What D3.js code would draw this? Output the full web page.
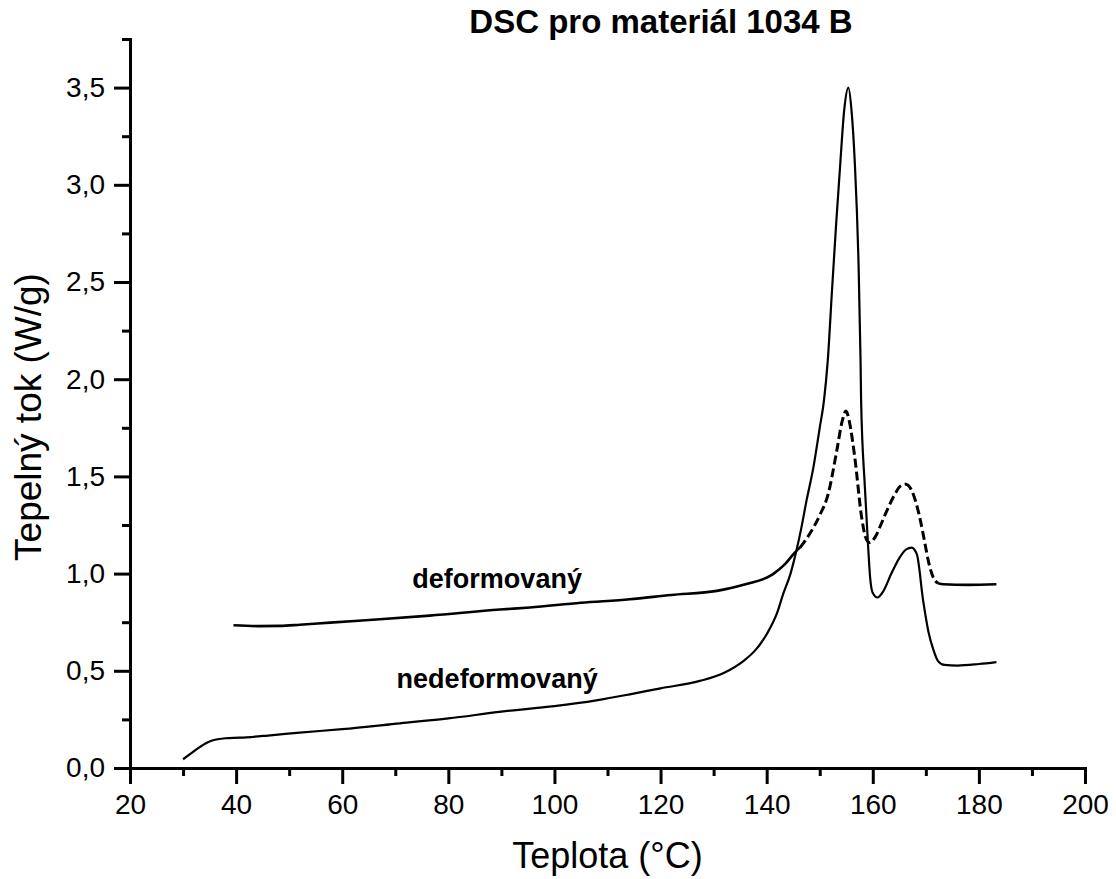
<!DOCTYPE html>
<html>
<head>
<meta charset="utf-8">
<script src="https://cdn.jsdelivr.net/npm/d3@7"></script>
<style>
  body { margin: 0; background: #fff; }
  svg text { font-family: Arial, "Liberation Sans", sans-serif; fill: #000; }
  .axis path, .axis line { stroke: #000; stroke-width: 3; }
  .axis text { font-size: 28px; }
</style>
</head>
<body>
<div id="chart"></div>
<script>
// DSC data
// nedeformovaný (solid)
var tempNedef = [30, 31.5, 33, 34.5, 36, 38, 40.7, 46, 52, 60, 70.9, 80, 90, 100, 107.9, 114.2, 120,
  127.4, 132, 135.6, 138, 140, 142, 143.1, 144.5, 145.6, 146.5, 147.5, 148.8, 150, 150.8, 151.5,
  152.3, 153.1, 153.9, 154.6, 155.4, 156.0, 156.6, 157.3, 157.7, 157.8, 158.5, 159.1, 159.5, 160.0, 160.9,
  162, 163.5, 165, 166.3, 167.3, 168.3, 169.5, 170.5, 171.4, 172.3, 173.5, 176, 180, 183.3];
var flowNedef = [0.045, 0.075, 0.105, 0.13, 0.145, 0.153, 0.156, 0.167, 0.182, 0.2, 0.23, 0.255, 0.29, 0.318, 0.348, 0.379, 0.41,
  0.448, 0.49, 0.55, 0.61, 0.688, 0.8, 0.894, 1.0, 1.117, 1.23, 1.374, 1.545, 1.75, 1.89, 2.09,
  2.45, 2.8, 3.12, 3.38, 3.5, 3.38, 3.12, 2.61, 2.09, 1.89, 1.45, 1.15, 0.98, 0.9, 0.877,
  0.91, 1.0, 1.08, 1.125, 1.134, 1.1, 0.86, 0.7, 0.61, 0.55, 0.53, 0.527, 0.535, 0.545];

// deformovaný (dashed)
var tempDef = [39.5, 44, 48.3, 52, 57.7, 67.1, 76.5, 89.7, 95.4, 105, 114.2, 122, 130.6, 136, 141.2,
  143.5, 145.6, 146.3, 148, 150, 151.6, 153.2, 154.2, 154.95, 155.6, 156.6, 157.9, 158.6, 159.3,
  160.5, 161.5, 162.6, 164, 165.2, 166.2, 167.3, 168.2, 169.0, 169.8, 170.6, 171.4, 172.3, 173.3, 178, 183.3];
var flowDef = [0.734, 0.73, 0.731, 0.737, 0.748, 0.765, 0.784, 0.815, 0.826, 0.85, 0.868, 0.89, 0.911, 0.945, 0.997,
  1.05, 1.117, 1.134, 1.2, 1.3, 1.41, 1.63, 1.78, 1.837, 1.78, 1.6, 1.29, 1.19, 1.16,
  1.19, 1.25, 1.32, 1.4, 1.45, 1.46, 1.43, 1.36, 1.27, 1.16, 1.05, 0.98, 0.95, 0.945, 0.942, 0.945];

var xMajor = [20, 40, 60, 80, 100, 120, 140, 160, 180, 200];
var yMajor = [0, 0.5, 1.0, 1.5, 2.0, 2.5, 3.0, 3.5];

var svgWidth = 1116;
var svgHeight = 879;
var margin = { top: 39, right: 31, bottom: 111, left: 130 };
var width = svgWidth - margin.left - margin.right;
var height = svgHeight - margin.top - margin.bottom;

var svg = d3.select("#chart")
  .append("svg")
  .attr("width", svgWidth)
  .attr("height", svgHeight);

var chartGroup = svg.append("g")
  .attr("transform", `translate(${margin.left}, ${margin.top})`);

var xScale = d3.scaleLinear().domain([20, 200]).range([0, width]);
var yScale = d3.scaleLinear().domain([0, 3.75]).range([height, 0]);

var fmt = d => d3.format(".1f")(d).replace(".", ",");

// minor ticks first
chartGroup.append("g")
  .attr("class", "axis")
  .attr("transform", `translate(0, ${height})`)
  .call(d3.axisBottom(xScale).tickValues(d3.range(30, 200, 20)).tickSize(8).tickFormat(""))
  .select(".domain").remove();

chartGroup.append("g")
  .attr("class", "axis")
  .call(d3.axisLeft(yScale).tickValues([0.25, 0.75, 1.25, 1.75, 2.25, 2.75, 3.25, 3.75]).tickSize(8).tickFormat(""))
  .select(".domain").remove();

// major axes
var xAxis = chartGroup.append("g")
  .attr("class", "axis")
  .attr("transform", `translate(0, ${height})`)
  .call(d3.axisBottom(xScale).tickValues(xMajor).tickSizeInner(16).tickSizeOuter(0).tickPadding(9));
xAxis.selectAll("text").attr("dy", "0.75em");

var yAxis = chartGroup.append("g")
  .attr("class", "axis")
  .call(d3.axisLeft(yScale).tickValues(yMajor).tickSizeInner(16).tickSizeOuter(0).tickPadding(9).tickFormat(fmt));

chartGroup.selectAll(".domain").attr("stroke-linecap", "square");

// lines
var nedef = tempNedef.map((t, i) => ({ t: t, v: flowNedef[i] }));
var def = tempDef.map((t, i) => ({ t: t, v: flowDef[i] }));

var line = d3.line()
  .x(d => xScale(d.t))
  .y(d => yScale(d.v))
  .curve(d3.curveMonotoneX);

chartGroup.append("path")
  .attr("d", line(nedef))
  .attr("fill", "none")
  .attr("stroke", "#000")
  .attr("stroke-width", 2.2);

// deformed curve: dense flat parts look solid, steep peak part shows dashes
chartGroup.append("path")
  .attr("d", line(def.filter(d => d.t <= 146.3)))
  .attr("fill", "none")
  .attr("stroke", "#000")
  .attr("stroke-width", 2.6);

chartGroup.append("path")
  .attr("d", line(def.filter(d => d.t >= 146.3 && d.t <= 172.3)))
  .attr("fill", "none")
  .attr("stroke", "#000")
  .attr("stroke-width", 3)
  .attr("stroke-dasharray", "9,4");

chartGroup.append("path")
  .attr("d", line(def.filter(d => d.t >= 172.3)))
  .attr("fill", "none")
  .attr("stroke", "#000")
  .attr("stroke-width", 2.6);

// curve labels
chartGroup.append("text")
  .attr("x", xScale(89.2))
  .attr("y", yScale(0.924))
  .attr("text-anchor", "middle")
  .style("font-size", "27px")
  .style("font-weight", "bold")
  .text("deformovaný");

chartGroup.append("text")
  .attr("x", xScale(89.2))
  .attr("y", yScale(0.41))
  .attr("text-anchor", "middle")
  .style("font-size", "27px")
  .style("font-weight", "bold")
  .text("nedeformovaný");

// title
svg.append("text")
  .attr("x", 661)
  .attr("y", 33)
  .attr("text-anchor", "middle")
  .style("font-size", "33px")
  .style("font-weight", "bold")
  .text("DSC pro materiál 1034 B");

// axis titles
svg.append("text")
  .attr("x", margin.left + width / 2)
  .attr("y", 868)
  .attr("text-anchor", "middle")
  .style("font-size", "36px")
  .text("Teplota (°C)");

svg.append("text")
  .attr("transform", "rotate(-90)")
  .attr("x", -417)
  .attr("y", 41)
  .attr("text-anchor", "middle")
  .style("font-size", "37px")
  .text("Tepelný tok (W/g)");
</script>
</body>
</html>
